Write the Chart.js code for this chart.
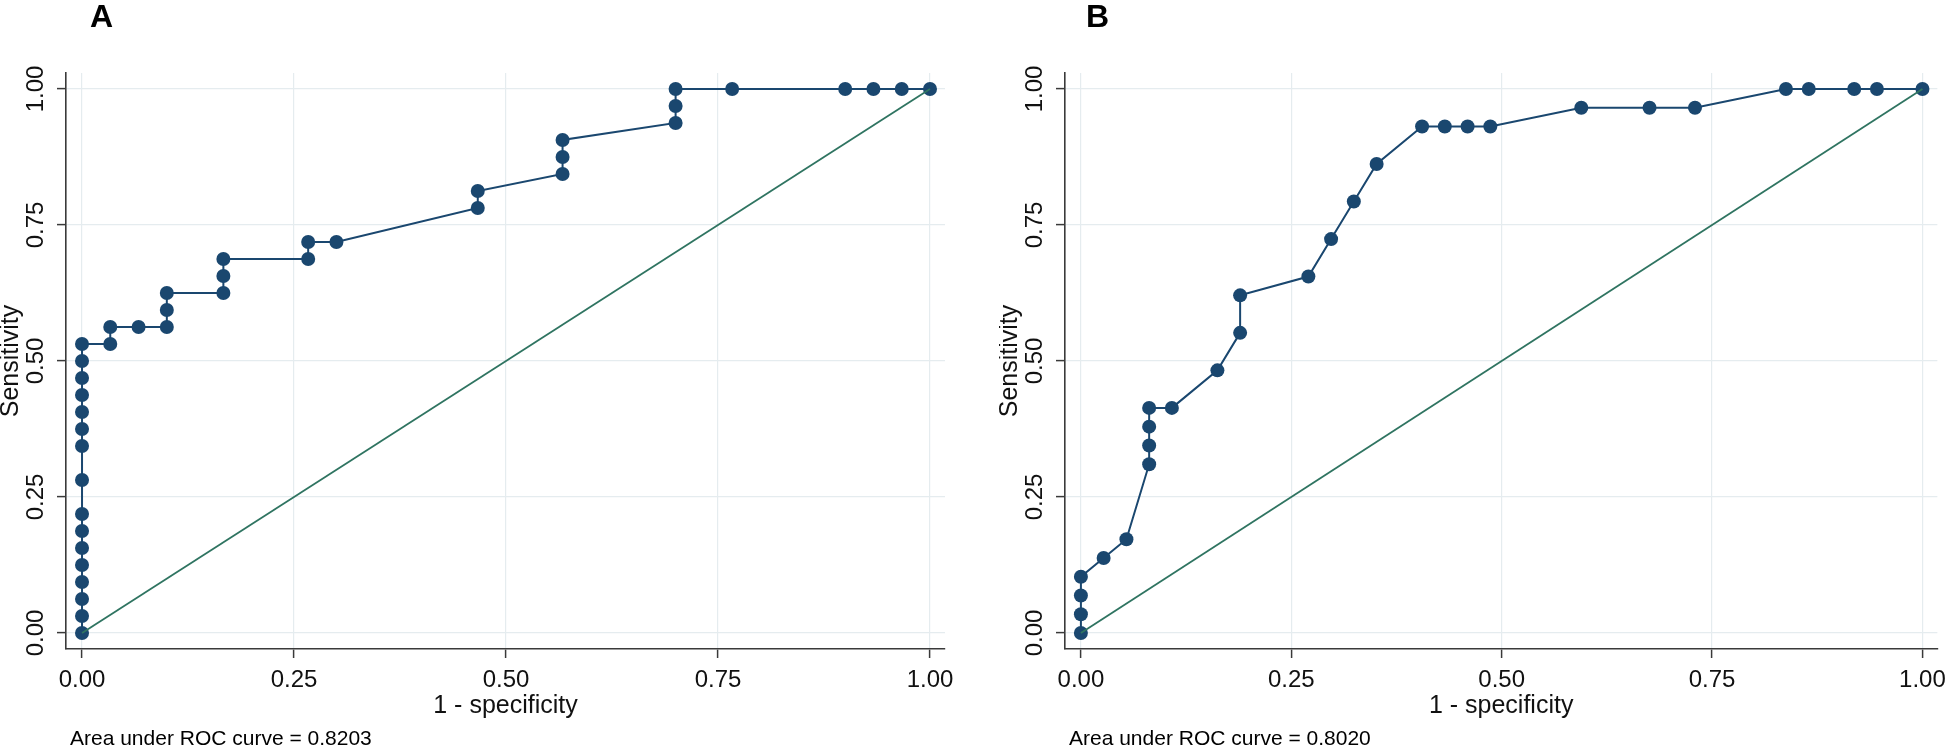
<!DOCTYPE html>
<html>
<head>
<meta charset="utf-8">
<title>ROC curves</title>
<script src="https://cdn.jsdelivr.net/npm/chart.js@4.4.1/dist/chart.umd.min.js"></script>
<style>
  body { margin: 0; background: #fff; font-family: 'Liberation Sans', Arial, sans-serif; }
  .panel { position: absolute; top: 0; }
  .tag { position: absolute; top: 0; font-size: 32px; font-weight: bold; line-height: 1; color: #000; }
  .note { position: absolute; top: 727px; font-size: 21px; line-height: 1; color: #000; white-space: nowrap; }
</style>
</head>
<body>
<canvas id="rocA" class="panel" width="980" height="745" style="left:0"></canvas>
<canvas id="rocB" class="panel" width="955" height="745" style="left:999px"></canvas>
<div class="tag" style="left:90px">A</div>
<div class="tag" style="left:1086px">B</div>
<div class="note" style="left:70px">Area under ROC curve = 0.8203</div>
<div class="note" style="left:1069px">Area under ROC curve = 0.8020</div>

<script>
'use strict';

// Panel A: 1 - specificity / sensitivity
let fprA = [0, 0, 0, 0, 0, 0, 0, 0, 0, 0, 0, 0, 0, 0, 0, 0,
  0.0333, 0.0333, 0.0667, 0.1, 0.1, 0.1, 0.1667, 0.1667, 0.1667, 0.2667, 0.2667, 0.3,
  0.4667, 0.4667, 0.5667, 0.5667, 0.5667, 0.7, 0.7, 0.7, 0.7667, 0.9, 0.9333, 0.9667, 1];
let tprA = [0, 0.0313, 0.0625, 0.0938, 0.125, 0.1563, 0.1875, 0.2188, 0.2813, 0.3438, 0.375, 0.4063, 0.4375, 0.4688, 0.5, 0.5313,
  0.5313, 0.5625, 0.5625, 0.5625, 0.5938, 0.625, 0.625, 0.6563, 0.6875, 0.6875, 0.7188, 0.7188,
  0.7813, 0.8125, 0.8438, 0.875, 0.9063, 0.9375, 0.9688, 1, 1, 1, 1, 1, 1];

// Panel B
let fprB = [0, 0, 0, 0, 0.027, 0.0541, 0.0811, 0.0811, 0.0811, 0.0811, 0.1081, 0.1622, 0.1892, 0.1892,
  0.2703, 0.2973, 0.3243, 0.3514, 0.4054, 0.4324, 0.4595, 0.4865, 0.5946, 0.6757, 0.7297,
  0.8378, 0.8649, 0.9189, 0.9459, 1];
let tprB = [0, 0.0345, 0.069, 0.1034, 0.1379, 0.1724, 0.3103, 0.3448, 0.3793, 0.4138, 0.4138, 0.4828, 0.5517, 0.6207,
  0.6552, 0.7241, 0.7931, 0.8621, 0.931, 0.931, 0.931, 0.931, 0.9655, 0.9655, 0.9655,
  1, 1, 1, 1, 1];

// reference (chance) line
let refX = [0, 1];
let refY = [0, 1];

let tickValues = [0, 0.25, 0.5, 0.75, 1];
let tickLabels = ['0.00', '0.25', '0.50', '0.75', '1.00'];

let navy = '#1a476f';
let green = '#2f7461';
let gridColor = '#e5ecef';
let axisColor = '#3a3a3a';
let textColor = '#111';

Chart.defaults.font.family = "'Liberation Sans', Arial, sans-serif";

function toPoints(xs, ys) {
  return xs.map((x, i) => ({ x: x, y: ys[i] }));
}

function setTicks(scale) {
  scale.ticks = tickValues.map(v => ({ value: v }));
}

function tickLabel(value) {
  return tickLabels[tickValues.indexOf(value)];
}

function rocChart(id, fpr, tpr, rightPad) {
  let ctx = document.getElementById(id);
  return new Chart(ctx, {
    type: 'scatter',
    data: {
      datasets: [{
        data: toPoints(refX, refY),
        showLine: true,
        borderColor: green,
        borderWidth: 1.8,
        pointRadius: 0,
        order: 0
      }, {
        data: toPoints(fpr, tpr),
        showLine: true,
        borderColor: navy,
        borderWidth: 2,
        backgroundColor: navy,
        pointBackgroundColor: navy,
        pointBorderWidth: 0,
        pointRadius: 7,
        order: 1
      }]
    },
    options: {
      responsive: false,
      animation: false,
      events: [],
      layout: { padding: { top: 73, right: rightPad, bottom: 0, left: 0 } },
      plugins: { legend: { display: false }, tooltip: { enabled: false } },
      scales: {
        x: {
          type: 'linear',
          position: 'bottom',
          min: -0.0189,
          max: 1.0177,
          bounds: 'data',
          afterBuildTicks: setTicks,
          afterFit: s => { s.height = 96; },
          grid: { color: gridColor, lineWidth: 1.2, tickColor: axisColor, tickLength: 9, tickWidth: 1.5 },
          border: { color: axisColor, width: 1.6 },
          ticks: { font: { size: 24 }, color: textColor, padding: 8, maxRotation: 0, callback: tickLabel },
          title: { display: true, text: '1 - specificity', font: { size: 25 }, color: textColor, padding: { top: 0, bottom: 24 } }
        },
        y: {
          type: 'linear',
          position: 'left',
          min: -0.0294,
          max: 1.0294,
          bounds: 'data',
          afterBuildTicks: setTicks,
          afterFit: s => { s.width = 66; },
          grid: { color: gridColor, lineWidth: 1.2, tickColor: axisColor, tickLength: 9, tickWidth: 1.5 },
          border: { color: axisColor, width: 1.6 },
          ticks: { font: { size: 24 }, color: textColor, padding: -3, minRotation: 90, maxRotation: 90, crossAlign: 'center', callback: tickLabel },
          title: { display: true, text: 'Sensitivity', font: { size: 25, lineHeight: 1 }, color: textColor, padding: { top: -1.5, bottom: 0 } }
        }
      }
    }
  });
}

rocChart('rocA', fprA, tprA, 35);
rocChart('rocB', fprB, tprB, 11);
</script>
</body>
</html>
